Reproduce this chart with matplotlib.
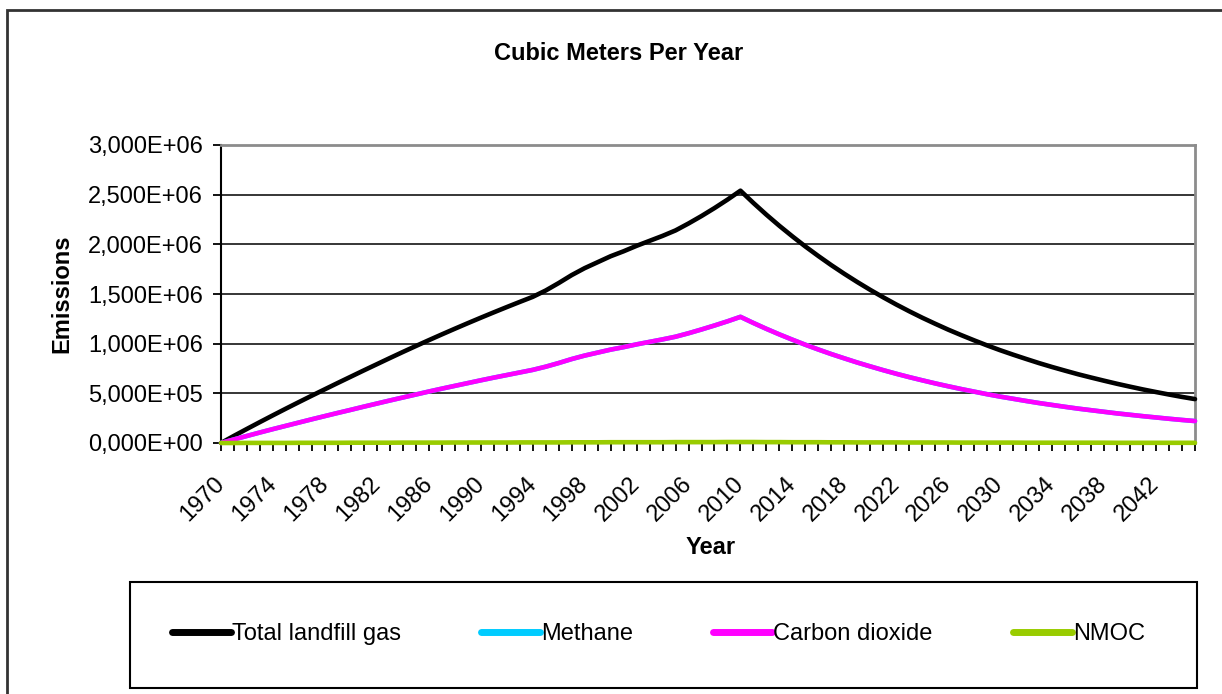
import matplotlib
matplotlib.use("Agg")
import matplotlib.pyplot as plt
from matplotlib.lines import Line2D
from matplotlib.patches import Rectangle
from matplotlib.transforms import ScaledTranslation

# categories
years = list(range(1970, 2046))
x_tick_years = [1970, 1974, 1978, 1982, 1986, 1990, 1994, 1998, 2002, 2006,
                2010, 2014, 2018, 2022, 2026, 2030, 2034, 2038, 2042]
x_tick_labels = ['1970', '1974', '1978', '1982', '1986', '1990', '1994', '1998', '2002', '2006',
                 '2010', '2014', '2018', '2022', '2026', '2030', '2034', '2038', '2042']

y_ticks = [0.0, 0.5, 1.0, 1.5, 2.0, 2.5, 3.0]
y_tick_labels = ['0,000E+00', '5,000E+05', '1,000E+06', '1,500E+06',
                 '2,000E+06', '2,500E+06', '3,000E+06']

# series, millions of cubic meters per year
total = [0.000, 0.072, 0.142, 0.211, 0.279, 0.346, 0.412, 0.477, 0.541, 0.605,
         0.668, 0.731, 0.793, 0.855, 0.916, 0.976, 1.035, 1.093, 1.150, 1.206,
         1.261, 1.315, 1.368, 1.420, 1.471, 1.535, 1.610, 1.690, 1.760, 1.820,
         1.880, 1.930, 1.985, 2.035, 2.085, 2.140, 2.210, 2.285, 2.365, 2.450,
         2.540,
         2.416, 2.298, 2.186, 2.080, 1.978, 1.882, 1.790, 1.703, 1.620, 1.541,
         1.466, 1.394, 1.326, 1.261, 1.200, 1.141, 1.086, 1.033, 0.982, 0.934,
         0.889, 0.846, 0.804, 0.765, 0.728, 0.692, 0.659, 0.627, 0.596, 0.567,
         0.539, 0.513, 0.488, 0.464, 0.442]

# methane sits under the CO2 line (same volume)
methane = [0.000, 0.036, 0.071, 0.106, 0.140, 0.173, 0.206, 0.239, 0.271, 0.303,
           0.334, 0.366, 0.397, 0.428, 0.458, 0.488, 0.518, 0.547, 0.575, 0.603,
           0.631, 0.658, 0.684, 0.710, 0.736, 0.768, 0.805, 0.845, 0.880, 0.910,
           0.940, 0.965, 0.993, 1.018, 1.043, 1.070, 1.105, 1.143, 1.183, 1.225,
           1.270,
           1.208, 1.149, 1.093, 1.040, 0.989, 0.941, 0.895, 0.852, 0.810, 0.771,
           0.733, 0.697, 0.663, 0.631, 0.600, 0.571, 0.543, 0.517, 0.491, 0.467,
           0.445, 0.423, 0.402, 0.383, 0.364, 0.346, 0.330, 0.314, 0.298, 0.284,
           0.270, 0.257, 0.244, 0.232, 0.221]

co2 = [0.000, 0.036, 0.071, 0.106, 0.140, 0.173, 0.206, 0.239, 0.271, 0.303,
       0.334, 0.366, 0.397, 0.428, 0.458, 0.488, 0.518, 0.547, 0.575, 0.603,
       0.631, 0.658, 0.684, 0.710, 0.736, 0.768, 0.805, 0.845, 0.880, 0.910,
       0.940, 0.965, 0.993, 1.018, 1.043, 1.070, 1.105, 1.143, 1.183, 1.225,
       1.270,
       1.208, 1.149, 1.093, 1.040, 0.989, 0.941, 0.895, 0.852, 0.810, 0.771,
       0.733, 0.697, 0.663, 0.631, 0.600, 0.571, 0.543, 0.517, 0.491, 0.467,
       0.445, 0.423, 0.402, 0.383, 0.364, 0.346, 0.330, 0.314, 0.298, 0.284,
       0.270, 0.257, 0.244, 0.232, 0.221]

nmoc = [0.000, 0.000, 0.001, 0.001, 0.001, 0.001, 0.002, 0.002, 0.002, 0.002,
        0.003, 0.003, 0.003, 0.003, 0.004, 0.004, 0.004, 0.004, 0.005, 0.005,
        0.005, 0.005, 0.005, 0.006, 0.006, 0.006, 0.006, 0.007, 0.007, 0.007,
        0.008, 0.008, 0.008, 0.008, 0.008, 0.009, 0.009, 0.009, 0.009, 0.010,
        0.010,
        0.010, 0.009, 0.009, 0.008, 0.008, 0.008, 0.007, 0.007, 0.006, 0.006,
        0.006, 0.006, 0.005, 0.005, 0.005, 0.005, 0.004, 0.004, 0.004, 0.004,
        0.004, 0.003, 0.003, 0.003, 0.003, 0.003, 0.003, 0.003, 0.002, 0.002,
        0.002, 0.002, 0.002, 0.002, 0.002]

series_names = ['Total landfill gas', 'Methane', 'Carbon dioxide', 'NMOC']
series_colors = ['#000000', '#00CCFF', '#FF00FF', '#99CC00']

plt.rcParams['font.family'] = ['Liberation Sans', 'DejaVu Sans']
FS = 17

W, H = 1222, 694


def fx(px):
    return px / W


def fy(py):
    return 1 - py / H


fig = plt.figure(figsize=(W / 100, H / 100), dpi=100)

# outer chart border (runs off right and bottom edges)
fig.add_artist(Rectangle((fx(7), fy(720)), (1260 - 7) / W, (720 - 10) / H,
                         transform=fig.transFigure, fill=False, ec='#333333', lw=2))

ax = fig.add_axes([fx(221), fy(443), (1195 - 221) / W, (443 - 145) / H])

for data, name, col in zip([total, methane, co2, nmoc], series_names, series_colors):
    ax.plot(years, data, color=col, lw=3.3, label=name, clip_on=False, zorder=3,
            solid_capstyle='round', solid_joinstyle='round')

ax.set_xlim(1970, 2045)
ax.set_ylim(0, 3.0)

ax.set_yticks(y_ticks)
ax.set_yticklabels(y_tick_labels, fontsize=FS)
ax.set_xticks(x_tick_years)
ax.set_xticks(years, minor=True)
ax.set_xticklabels(x_tick_labels, fontsize=FS, rotation=45, ha='right', va='center',
                   rotation_mode='anchor')
shift = ScaledTranslation(-4 / 100, 0, fig.dpi_scale_trans)
for lab in ax.get_xticklabels():
    lab.set_transform(lab.get_transform() + shift)

ax.tick_params(axis='y', direction='out', length=6, width=1.3, pad=7, colors='black')
ax.tick_params(axis='x', which='both', direction='out', length=6, width=1.3, pad=21)

ax.yaxis.grid(True, color='black', lw=1.1)
ax.set_axisbelow(True)

ax.spines['left'].set_color('black')
ax.spines['left'].set_linewidth(1.5)
ax.spines['bottom'].set_color('black')
ax.spines['bottom'].set_linewidth(1.5)
for s in ['top', 'right']:
    ax.spines[s].set_color('#8c8c8c')
    ax.spines[s].set_linewidth(2)

fig.text(fx(619), fy(54), 'Cubic Meters Per Year', ha='center', va='center',
         fontsize=FS, fontweight='bold')
fig.text(fx(62), fy(294), 'Emissions', ha='center', va='center', rotation=90,
         fontsize=FS, fontweight='bold')
fig.text(fx(711), fy(547), 'Year', ha='center', va='center',
         fontsize=FS, fontweight='bold')

# legend box
fig.add_artist(Rectangle((fx(130), fy(688)), (1197 - 130) / W, (688 - 582) / H,
                         transform=fig.transFigure, fill=False, ec='black', lw=1.5))
handles = [Line2D([], [], color=c, lw=5, solid_capstyle='round') for c in series_colors]
fig.legend(handles, series_names, loc='center', ncol=4, mode='expand',
           bbox_to_anchor=(fx(172), fy(660), (1145 - 172) / W, (660 - 608) / H),
           frameon=False, borderpad=0, borderaxespad=0, handlelength=2.5,
           handletextpad=0.05, fontsize=FS)

fig.savefig('out.png', dpi=100)
